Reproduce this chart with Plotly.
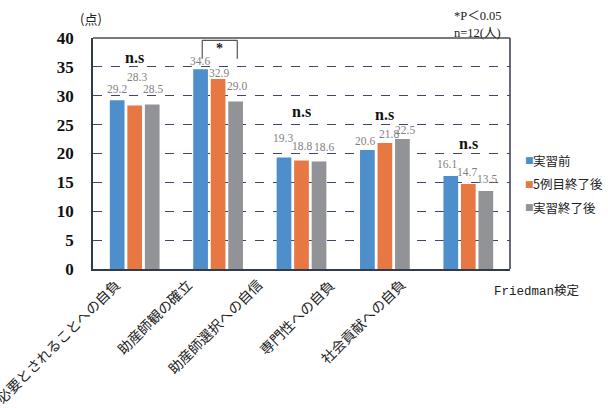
import plotly.graph_objects as go

categories = ["必要とされることへの自負", "助産師観の確立", "助産師選択への自信", "専門性への自負", "社会貢献への自負"]
series_names = ["実習前", "5例目終了後", "実習終了後"]
before = [29.2, 34.6, 19.3, 20.6, 16.1]
after5 = [28.3, 32.9, 18.8, 21.8, 14.7]
after_all = [28.5, 29.0, 18.6, 22.5, 13.5]
sig_labels = ["n.s", "", "n.s", "n.s", "n.s"]
y_ticks = [0, 5, 10, 15, 20, 25, 30, 35, 40]

series = [before, after5, after_all]
colors = ["#4e8fcb", "#e87843", "#929396"]

# label placement tweaks (pixels) relative to each bar top
label_dx = [[0, 2, 1], [-1, 1, 1], [-1, 0, 5], [-2, 4, 3], [-4, -1, 1]]
label_dy = [[11, 29, 15], [8, 6, 16], [20, 14, 15], [9, 9, 9], [12, 12, 12]]
sig_y = [36.7, None, 27.2, 26.8, 21.8]
# category label end positions (pixels right of group centre)
cat_label_dx = [-8, -20, -32, -44, -56]

W, H = 608, 408
ml, mr, mt, mb = 93, 98, 38, 139
plot_w = W - ml - mr
plot_h = H - mt - mb
group_px = plot_w / len(categories)
bargap, bargroupgap = 0.37, 0.16
slot = group_px * (1 - bargap) / 3

fig = go.Figure()
for name, vals, c in zip(series_names, series, colors):
    fig.add_trace(go.Bar(x=categories, y=vals, name=name, marker=dict(color=c, line=dict(width=0)),
                         showlegend=False))

ann = []
serif = "Liberation Serif, Noto Sans CJK JP"
for gi, cat in enumerate(categories):
    for si in range(3):
        v = series[si][gi]
        ann.append(dict(x=gi, y=v, xref="x", yref="y", text=f"{v:.1f}", showarrow=False,
                        xanchor="center", yanchor="middle",
                        xshift=(si - 1) * slot + label_dx[gi][si], yshift=label_dy[gi][si],
                        font=dict(family=serif, size=11.5, color="#7f7f7f")))
    if sig_y[gi] is not None:
        ann.append(dict(x=gi, y=sig_y[gi], xref="x", yref="y", text=f"<b>{sig_labels[gi]}</b>",
                        showarrow=False, xanchor="center", yanchor="middle",
                        font=dict(family=serif, size=16, color="#111")))
    # rotated category labels
    ann.append(dict(x=gi, y=0, xref="x", yref="paper", text=cat, showarrow=False, textangle=-45,
                    xanchor="right", yanchor="top", xshift=cat_label_dx[gi], yshift=-3,
                    font=dict(family="Noto Sans CJK JP", size=14, color="#222")))

# significance bracket asterisk on group 2
ann.append(dict(x=1 + 0.02, y=38.1, xref="x", yref="y", text="<b>*</b>", showarrow=False,
                xanchor="center", yanchor="middle", font=dict(family=serif, size=14, color="#222")))

def px_x(px):
    return (px - ml) / plot_w

def px_y(py):
    return (H - mb - py) / plot_h

def note(px, py, text, font, xanchor="left"):
    ann.append(dict(x=px_x(px), y=px_y(py), xref="paper", yref="paper", text=text, showarrow=False,
                    xanchor=xanchor, yanchor="middle", font=font))

note(91, 18, "(点)", dict(family="Noto Sans CJK JP", size=13, color="#222"), xanchor="center")
note(452, 16, "*P＜0.05", dict(family=serif, size=12.5, color="#222"))
note(452, 33, "n=12(人)", dict(family=serif, size=12.5, color="#222"))
note(492, 291, "Friedman検定", dict(family="Liberation Mono, Noto Sans CJK JP", size=12.5, color="#222"))

# custom legend
for i, (name, c) in enumerate(zip(series_names, colors)):
    note(523, 160 + 23.5 * i, "■", dict(family="DejaVu Sans", size=9, color=c), xanchor="left")
    note(531, 160 + 23.5 * i, name, dict(family="Noto Sans CJK JP", size=12.5, color="#222"), xanchor="left")

shapes = [
    dict(type="line", xref="paper", yref="paper", x0=0, x1=1, y0=1, y1=1, line=dict(color="#7a7a7a", width=2)),
    dict(type="line", xref="paper", yref="paper", x0=1, x1=1, y0=0, y1=1, line=dict(color="#333a4a", width=1.5)),
    dict(type="line", xref="x", yref="y", x0=1 - 0.19, x1=1 - 0.19, y0=36.4, y1=39.6, line=dict(color="#555", width=1.2)),
    dict(type="line", xref="x", yref="y", x0=1 + 0.23, x1=1 + 0.23, y0=36.4, y1=39.6, line=dict(color="#555", width=1.2)),
    dict(type="line", xref="x", yref="y", x0=1 - 0.19, x1=1 + 0.23, y0=39.6, y1=39.6, line=dict(color="#555", width=1.2)),
]

fig.update_layout(
    width=W, height=H, margin=dict(l=ml, r=mr, t=mt, b=mb),
    paper_bgcolor="white", plot_bgcolor="white",
    barmode="group", bargap=bargap, bargroupgap=bargroupgap,
    annotations=ann, shapes=shapes,
    xaxis=dict(range=[-0.5, len(categories) - 0.5], showline=True, linecolor="#333a4a", linewidth=1.5,
               ticks="", showticklabels=False, automargin=False),
    yaxis=dict(range=[0, 40], tickvals=y_ticks, showline=True, linecolor="#333a4a", linewidth=1.5,
               showgrid=True, gridcolor="#3d4868", griddash="dash", gridwidth=1, zeroline=False,
               ticks="", ticklabelstandoff=14, automargin=False,
               tickfont=dict(family="Liberation Serif", size=17, color="#111", weight="bold")),
)

fig.write_html("out.html")
